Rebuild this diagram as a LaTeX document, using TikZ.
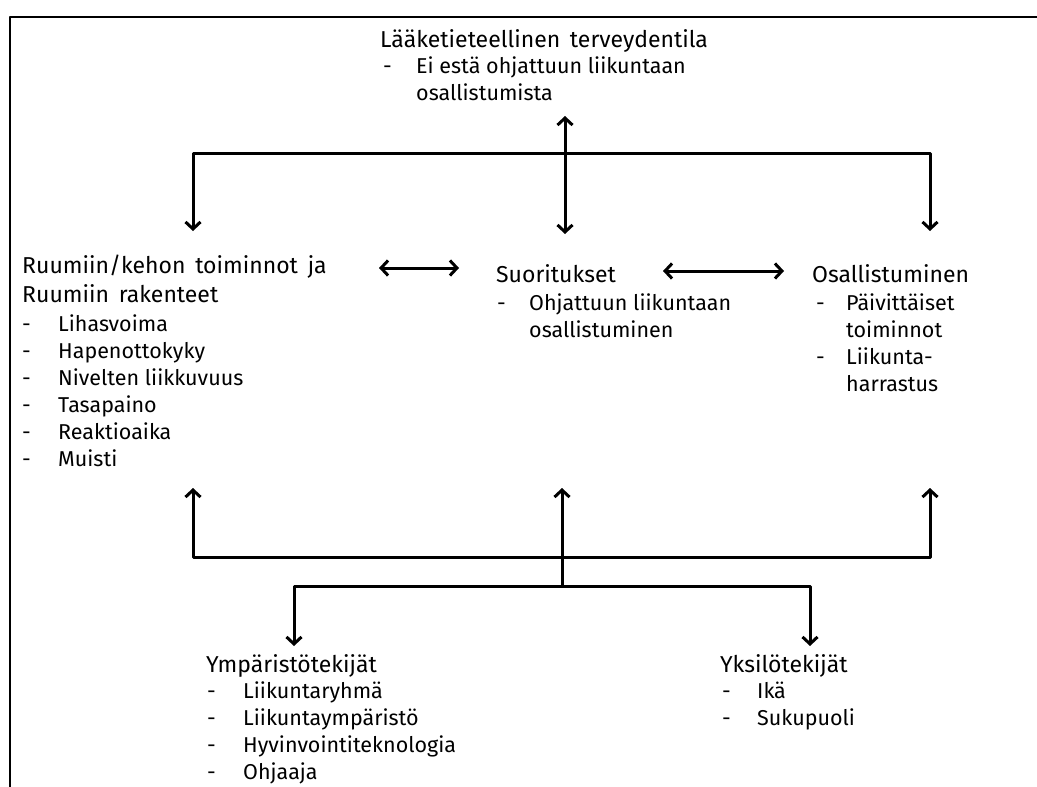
\documentclass[tikz,border=0pt]{standalone}
\usepackage{fontspec}
\setmainfont{Fira Sans}
\newfontfamily\headfam[WordSpace=1.6]{Fira Sans}
\usetikzlibrary{arrows.meta}

\newcommand{\headfont}{\headfam\fontsize{23}{29}\selectfont}
\newcommand{\itemfont}{\fontsize{21.5}{27}\selectfont}
% list with a dash column of given width
\newcommand{\dashlist}[2][34pt]{\begin{tabular}[t]{@{}p{#1}@{}l@{}}#2\end{tabular}}

\begin{document}
\begin{tikzpicture}[x=1pt,y=-1pt,line cap=round,line join=round,
    head/.style={anchor=base west,inner sep=0pt,font=\headfont},
    list/.style={anchor=base west,inner sep=0pt,font=\itemfont},
    frame/.style={line width=2.8pt},
    link/.style={line width=3pt,-{Straight Barb[length=7pt,width=15pt,line width=3pt]}},
    both/.style={line width=3pt,{Straight Barb[length=7pt,width=15pt,line width=3pt]}-{Straight Barb[length=7pt,width=15pt,line width=3pt]}}]
    \useasboundingbox (0,0) rectangle (1037,787);
    \draw[frame] (10,787) -- (10,17) -- (1037,17);

    % texts
    \node[head] (med) at (380,47) {Lääketieteellinen terveydentila};
    \node[list] (medlist) at (383,73) {\dashlist[33pt]{- & Ei estä ohjattuun liikuntaan\\ & osallistumista}};

    \node[head] (body) at (22,273) {\begin{tabular}[t]{@{}l@{}}Ruumiin/kehon toiminnot ja\\Ruumiin rakenteet\end{tabular}};
    \node[list] (bodylist) at (22,331) {\dashlist[36pt]{- & Lihasvoima\\ - & Hapenottokyky\\ - & Nivelten liikkuvuus\\
        - & Tasapaino\\ - & Reaktioaika\\ - & Muisti}};

    \node[head] (act) at (496,282) {Suoritukset};
    \node[list] (actlist) at (497,310) {\dashlist[32pt]{- & Ohjattuun liikuntaan\\ & osallistuminen}};

    \node[head] (part) at (812,282) {Osallistuminen};
    \node[list] (partlist) at (816,310) {\dashlist[30pt]{- & Päivittäiset\\ & toiminnot\\ - & Liikunta-\\ & harrastus}};

    \node[head] (env) at (206,672) {Ympäristötekijät};
    \node[list] (envlist) at (207,698) {\dashlist[36pt]{- & Liikuntaryhmä\\ - & Liikuntaympäristö\\
        - & Hyvinvointiteknologia\\ - & Ohjaaja}};

    \node[head] (pers) at (720,672) {Yksilötekijät};
    \node[list] (perslist) at (722,698) {\dashlist[35pt]{- & Ikä\\ - & Sukupuoli}};

    % arrow ends
    \coordinate (medin) at (565,116);
    \coordinate (actin) at (565,234);
    \coordinate (bodyin) at (193,231);
    \coordinate (partin) at (930,231);
    \coordinate (uptop) at (930,153);
    \coordinate (bodyout) at (193,488);
    \coordinate (actout) at (562,488);
    \coordinate (partout) at (930,488);
    \coordinate (lowbar) at (930,557);
    \coordinate (split) at (562,586);
    \coordinate (envin) at (294,646);
    \coordinate (persin) at (810,646);
    \coordinate (splitr) at (810,586);
    \coordinate (bodyr) at (379,268);
    \coordinate (actl) at (459,268);
    \coordinate (actr) at (663,271);
    \coordinate (partl) at (784,271);

    % connectors
    \draw[both] (medin) -- (actin);
    \draw[both] (bodyin) |- (uptop) -- (partin);
    \draw[both] (bodyr) -- (actl);
    \draw[both] (actr) -- (partl);
    \draw[both] (bodyout) |- (lowbar) -- (partout);
    \draw[link] (split) -- (actout);
    \draw[both] (envin) |- (splitr) -- (persin);
\end{tikzpicture}
\end{document}
